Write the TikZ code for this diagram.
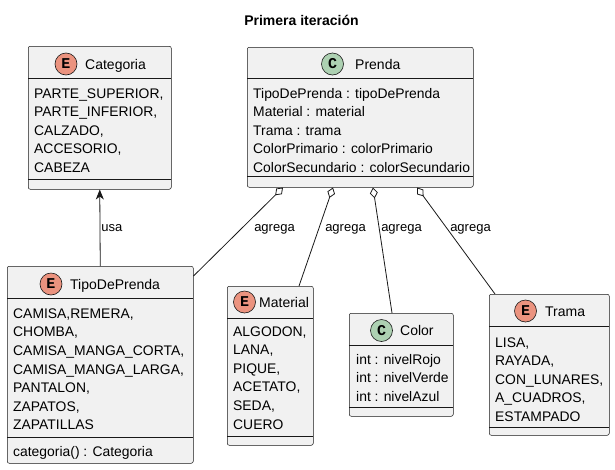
\documentclass[tikz,border=0pt]{standalone}
\usepackage{fontspec}
\setmainfont{Liberation Sans}
\newfontfamily\iconfont{Liberation Mono}
\usetikzlibrary{arrows.meta}
\definecolor{boxfill}{HTML}{F1F1F1}
\definecolor{bdr}{HTML}{181818}
\definecolor{enumc}{HTML}{EB937F}
\definecolor{classc}{HTML}{ADD1B2}
\tikzset{
  box/.style={draw=bdr, fill=boxfill, rounded corners=2pt, line width=0.5pt, anchor=north west, inner sep=0pt},
  sepline/.style={draw=bdr, line width=0.5pt},
  attr/.style={anchor=base west, inner sep=0pt, font=\fontsize{13.9}{17}\selectfont, text=black},
  cname/.style={anchor=base west, inner sep=0pt, font=\fontsize{14}{17}\selectfont, text=black},
  iconE/.style={circle, draw=bdr, fill=enumc, line width=0.6pt, minimum size=22pt, inner sep=0pt, font=\iconfont\bfseries\fontsize{15}{17}\selectfont},
  iconC/.style={circle, draw=bdr, fill=classc, line width=0.6pt, minimum size=22pt, inner sep=0pt, font=\iconfont\bfseries\fontsize{15}{17}\selectfont},
  conn/.style={draw=bdr, line width=0.8pt},
  lbl/.style={inner sep=0pt, font=\fontsize{13}{15}\selectfont, text=black}
}
\begin{document}
\begin{tikzpicture}[x=1pt,y=-1pt]
\useasboundingbox (0,0) rectangle (615,469);
% title
\node[font=\bfseries\fontsize{14}{17}\selectfont] (title) at (301.5,20) {Primera iteración};

% Categoria
\node[box, minimum width=143pt, minimum height=143pt] (cat) at (28,46) {};
\draw[sepline] (28,78) -- (171,78);
\draw[sepline] (28,179) -- (171,179);
\node[iconE] (catI) at (66,64) {E};
\node[cname] (catN) at (85,69) {Categoria};
\foreach \t [count=\i] in {{PARTE\_SUPERIOR,},{PARTE\_INFERIOR,},{CALZADO,},{ACCESORIO,},{CABEZA}}
  \node[attr] (cat\i) at (34,{93+5+(\i-1)*18.6}) {\t};

% Prenda
\node[box, minimum width=226pt, minimum height=140pt] (prenda) at (247,47) {};
\draw[sepline] (247,78) -- (473,78);
\draw[sepline] (247,176) -- (473,176);
\node[iconC] (prendaI) at (332.5,64) {C};
\node[cname] (prendaN) at (355,69) {Prenda};
\foreach \t [count=\i] in {{TipoDePrenda : tipoDePrenda},{Material : material},{Trama : trama},{ColorPrimario : colorPrimario},{ColorSecundario : colorSecundario}}
  \node[attr] (prenda\i) at (253,{93+5+(\i-1)*18.6}) {\t};

% TipoDePrenda
\node[box, minimum width=186pt, minimum height=197pt] (tipo) at (7,266) {};
\draw[sepline] (7,298) -- (193,298);
\draw[sepline] (7,437) -- (193,437);
\node[iconE] (tipoI) at (51,284) {E};
\node[cname] (tipoN) at (70,289) {TipoDePrenda};
\foreach \t [count=\i] in {{CAMISA,REMERA,},{CHOMBA,},{CAMISA\_MANGA\_CORTA,},{CAMISA\_MANGA\_LARGA,},{PANTALON,},{ZAPATOS,},{ZAPATILLAS}}
  \node[attr] (tipo\i) at (13,{313.3+5+(\i-1)*18.6}) {\t};
\node[attr] (tipoM) at (13,456) {categoria() : Categoria};

% Material
\node[box, minimum width=86pt, minimum height=159pt] (mat) at (227,286) {};
\draw[sepline] (227,318) -- (313,318);
\draw[sepline] (227,436) -- (313,436);
\node[iconE] (matI) at (244.5,302) {E};
\node[cname] (matN) at (259,307) {Material};
\foreach \t [count=\i] in {{ALGODON,},{LANA,},{PIQUE,},{ACETATO,},{SEDA,},{CUERO}}
  \node[attr] (mat\i) at (233,{331+5+(\i-1)*18.6}) {\t};

% Color
\node[box, minimum width=104pt, minimum height=103pt] (color) at (349,313) {};
\draw[sepline] (349,345) -- (453,345);
\draw[sepline] (349,407) -- (453,407);
\node[iconC] (colorI) at (381.5,330.5) {C};
\node[cname] (colorN) at (400,335.5) {Color};
\foreach \t [count=\i] in {{int : nivelRojo},{int : nivelVerde},{int : nivelAzul}}
  \node[attr] (color\i) at (356,{359.3+5+(\i-1)*18.6}) {\t};

% Trama
\node[box, minimum width=120pt, minimum height=141pt] (trama) at (489,294) {};
\draw[sepline] (489,326) -- (609,326);
\draw[sepline] (489,427) -- (609,427);
\node[iconE] (tramaI) at (525.5,311) {E};
\node[cname] (tramaN) at (545,316) {Trama};
\foreach \t [count=\i] in {{LISA,},{RAYADA,},{CON\_LUNARES,},{A\_CUADROS,},{ESTAMPADO}}
  \node[attr] (trama\i) at (495,{342+5+(\i-1)*18.6}) {\t};

% connector end points
\coordinate (pA) at ([xshift=36pt]prenda.south west);
\coordinate (pB) at ([xshift=86pt]prenda.south west);
\coordinate (pC) at ([xshift=126pt]prenda.south west);
\coordinate (pD) at ([xshift=170pt]prenda.south west);
\coordinate (tA) at ([yshift=-10pt]tipo.north east);
\coordinate (mB) at ([xshift=72pt]mat.north west);
\coordinate (cC) at ([xshift=43pt]color.north west);
\coordinate (rD) at ([xshift=6pt]trama.north west);

% usa
\draw[conn, -{Stealth[length=10pt,width=8pt,inset=3pt]}] (tipo.north) -- (cat.south) node[lbl, pos=0.5, right=1pt] (usaL) {usa};

% agrega
\draw[conn, {Diamond[open,length=11pt,width=8pt]}-] (pA) -- (tA);
\draw[conn, {Diamond[open,length=11pt,width=8pt]}-] (pB) -- (mB);
\draw[conn, {Diamond[open,length=11pt,width=8pt]}-] (pC) -- (cC);
\draw[conn, {Diamond[open,length=11pt,width=8pt]}-] (pD) -- (rD);
\node[lbl] (ag1) at (274.5,229) {agrega};
\node[lbl] (ag2) at (345.5,229) {agrega};
\node[lbl] (ag3) at (401.5,229) {agrega};
\node[lbl] (ag4) at (470.5,229) {agrega};
\end{tikzpicture}
\end{document}
